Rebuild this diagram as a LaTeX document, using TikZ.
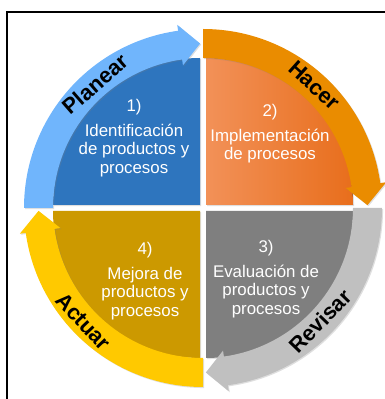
\documentclass[tikz,border=0pt]{standalone}
\usepackage{fontspec}
\setmainfont{Liberation Sans}
\usetikzlibrary{calc,shadows}
\definecolor{bluequad}{RGB}{46, 117, 190}
\definecolor{bluearrow}{RGB}{112, 181, 252}
\definecolor{orangelight}{RGB}{242, 145, 88}
\definecolor{orangedark}{RGB}{232, 110, 28}
\definecolor{orangearrow}{RGB}{234, 140, 0}
\definecolor{grayquad}{RGB}{127, 127, 127}
\definecolor{grayarrow}{RGB}{192, 192, 192}
\definecolor{goldquad}{RGB}{204, 153, 0}
\definecolor{yellowarrow}{RGB}{255, 201, 0}

\begin{document}
\begin{tikzpicture}[
    x=0.02cm, y=0.02cm,
    steptext/.style={
        align=center,
        text=white,
        font=\fontsize{9.6}{10.5}\selectfont,
        inner sep=0pt
    },
    phase/.style={
        text=black,
        font=\fontsize{12.4}{13}\selectfont\bfseries,
        inner sep=0pt
    },
    soft/.style={
        drop shadow={shadow xshift=0.6pt, shadow yshift=-0.6pt, opacity=0.25}
    }
]
\useasboundingbox (0,0) rectangle (385,399);

% Frame (top and left edges)
\draw[line width=1.2pt] (7,0) -- (7,387) -- (385,387);

% Centre of the cycle
\coordinate (c) at (203,191);

% Quadrants
\fill[bluequad, soft] (200,194) -- ++(180:147) arc[start angle=180, end angle=90, radius=147] -- cycle;
\fill[soft, left color=orangelight, right color=orangedark] (206,194) -- ++(90:147) arc[start angle=90, end angle=0, radius=147] -- cycle;
\fill[grayquad, soft] (206,188) -- ++(0:147) arc[start angle=0, end angle=-90, radius=147] -- cycle;
\fill[goldquad, soft] (200,188) -- ++(270:147) arc[start angle=270, end angle=180, radius=147] -- cycle;

% Ring of arrows
\foreach \s/\col in {180/bluearrow, 90/orangearrow, 0/grayarrow, 270/yellowarrow}
    \fill[\col, soft] ($(c)+(\s:179)$) arc[start angle=\s, end angle=\s-82, radius=179]
        -- ($(c)+(\s-82:185)$) -- ($(c)+(\s-89:164.5)$) -- ($(c)+(\s-82:144)$)
        -- ($(c)+(\s-82:150)$) arc[start angle=\s-82, end angle=\s, radius=150] -- cycle;

% Phase labels
\node[phase, rotate=41] (planear) at ($(c)+(131:164)$) {Planear};
\node[phase, rotate=-42] (hacer) at ($(c)+(47.7:166)$) {Hacer};
\node[phase, rotate=46] (revisar) at ($(c)+(-44:163)$) {Revisar};
\node[phase, rotate=-46.5] (actuar) at ($(c)+(223.5:165)$) {Actuar};

% Step texts
\node[steptext] (paso1) at (134,261) {1)\\[3.5pt] Identificación\\de productos y\\procesos};
\node[steptext] (paso2) at (270,265) {2)\\[3.5pt] Implementación\\de procesos};
\node[steptext] (paso3) at (266,120) {3)\\[3.5pt] Evaluación de\\productos y\\procesos};
\node[steptext] (paso4) at (145,118) {4)\\[3.5pt] Mejora de\\productos y\\procesos};

\end{tikzpicture}
\end{document}
